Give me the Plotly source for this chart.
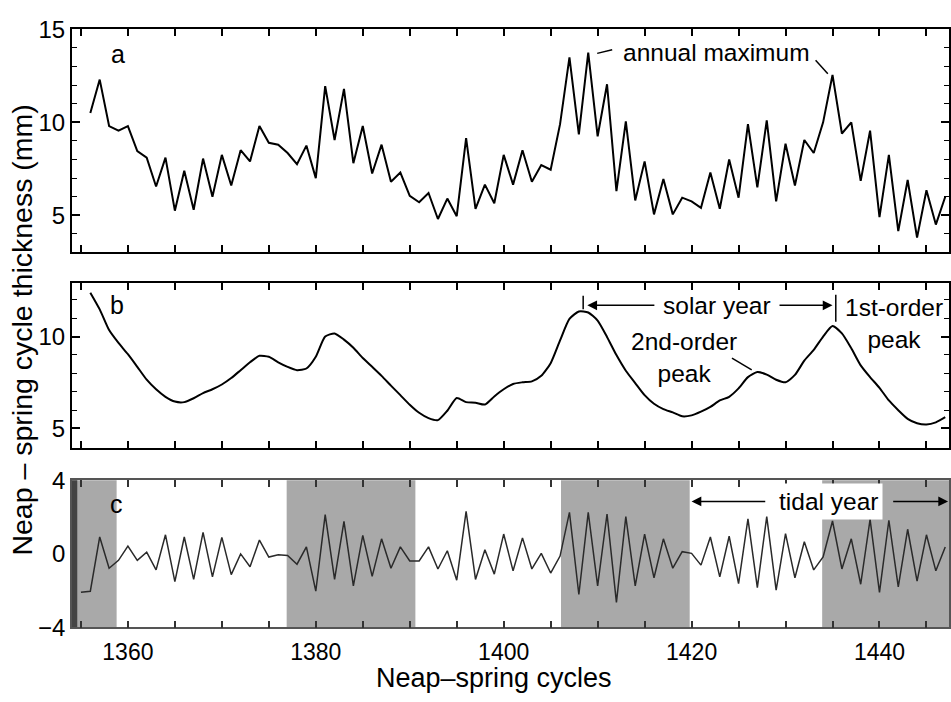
import plotly.graph_objects as go

# ---------------- data ----------------
cycles_a = list(range(1356, 1448))
thick_a = [10.5, 12.3, 9.8, 9.55, 9.8, 8.45, 8.1, 6.55, 8.1, 5.25,
           7.4, 5.3, 8.05, 6.0, 8.25, 6.6, 8.5, 7.9, 9.8, 8.9,
           8.8, 8.35, 7.75, 8.75, 7.0, 11.95, 9.05, 11.8, 7.8, 9.8,
           7.25, 8.8, 6.8, 7.3, 6.05, 5.7, 6.2, 4.8, 5.9, 4.95,
           9.15, 5.35, 6.65, 5.65, 8.25, 6.65, 8.5, 6.8, 7.7, 7.45,
           9.9, 13.5, 9.35, 13.75, 9.25, 12.05, 6.3, 10.05, 5.8, 7.9,
           5.05, 6.95, 5.05, 5.95, 5.75, 5.4, 7.3, 5.35, 8.0, 5.95,
           9.9, 6.5, 10.1, 5.75, 8.85, 6.6, 9.05, 8.35, 10.0, 12.55,
           9.4, 10.0, 6.85, 9.55, 4.9, 8.25, 4.15, 6.9, 3.8, 6.35,
           4.5, 6.0]

cycles_b = list(range(1356, 1448))
smooth_b = [12.39, 11.48, 10.35, 9.65, 9.04, 8.35, 7.65, 7.13, 6.72, 6.46,
            6.43, 6.64, 6.92, 7.13, 7.39, 7.74, 8.17, 8.6, 8.95, 8.9,
            8.6, 8.35, 8.17, 8.26, 8.9, 10.0, 10.17, 9.83, 9.39, 8.83,
            8.35, 7.86, 7.33, 6.81, 6.29, 5.85, 5.56, 5.45, 5.96, 6.65,
            6.43, 6.40, 6.30, 6.74, 7.13, 7.42, 7.51, 7.56, 7.86, 8.55,
            9.79, 10.96, 11.36, 11.31, 10.87, 9.98, 8.99, 8.14, 7.47, 6.81,
            6.34, 6.05, 5.87, 5.66, 5.71, 5.91, 6.17, 6.52, 6.72, 7.18,
            7.79, 8.07, 7.93, 7.65, 7.51, 7.91, 8.69, 9.27, 10.0, 10.57,
            10.17, 9.36, 8.43, 7.79, 7.21, 6.52, 5.99, 5.52, 5.28, 5.21,
            5.33, 5.61]

cycles_c = list(range(1355, 1448))
resid_c = [-2.09, -2.03, 0.92, -0.78, -0.35, 0.43, -0.35, 0.09, -0.87, 1.04,
           -1.51, 0.92, -1.39, 1.17, -1.25, 0.90, -1.13, 0.0, -0.70, 0.75,
           -0.17, -0.05, -0.09, -0.56, 0.38, -2.03, 2.14, -1.39, 1.77, -1.74,
           1.01, -1.22, 0.82, -0.78, 0.38, -0.38, -0.38, 0.38, -0.82, 0.17,
           -1.43, 2.31, -1.39, 0.23, -1.10, 1.08, -0.92, 0.87, -0.82, 0.03,
           -1.04, -0.12, 2.26, -2.21, 2.26, -1.74, 2.17, -2.64, 2.03, -1.74,
           1.08, -1.30, 0.82, -0.78, 0.12, 0.03, -0.61, 0.92, -1.25, 0.96,
           -1.62, 1.91, -1.83, 2.03, -1.97, 1.10, -1.30, 0.66, -0.87, -0.17,
           1.79, -0.82, 0.82, -1.65, 1.88, -2.09, 1.83, -1.79, 1.34, -1.48,
           1.04, -0.92, 0.38]

shade_start = [1354.0, 1376.9, 1406.1, 1433.9]
shade_end = [1358.8, 1390.6, 1419.8, 1447.5]

x_ticks = list(range(1355, 1450, 5))

XR = [1354.05, 1447.4]
FONT = "Liberation Sans, Arial, Helvetica, sans-serif"

fig = go.Figure()
fig.add_trace(go.Scatter(x=cycles_a, y=thick_a, mode="lines",
                         line=dict(color="black", width=2), xaxis="x", yaxis="y"))
fig.add_trace(go.Scatter(x=cycles_b, y=smooth_b, mode="lines",
                         line=dict(color="black", width=2, shape="spline", smoothing=0.6),
                         xaxis="x2", yaxis="y2"))
fig.add_trace(go.Scatter(x=cycles_c, y=resid_c, mode="lines",
                         line=dict(color="#2a2a2a", width=1.5), xaxis="x3", yaxis="y3"))

shapes = []
for s, e in zip(shade_start, shade_end):
    shapes.append(dict(type="rect", xref="x3", yref="y3 domain", x0=s, x1=e, y0=0, y1=1,
                       fillcolor="#a9a9a9", line=dict(width=0), layer="below"))
# dark scan band at left of panel c
shapes.append(dict(type="rect", xref="x3 domain", yref="y3 domain", x0=0, x1=0.006, y0=0, y1=1,
                   fillcolor="#444444", line=dict(width=0), layer="below"))
# leader lines panel a
shapes.append(dict(type="line", xref="x", yref="y", x0=1409.95, y0=13.71, x1=1411.55, y1=13.91,
                   line=dict(color="black", width=1.5)))
shapes.append(dict(type="line", xref="x", yref="y", x0=1433.2, y0=13.34, x1=1434.5, y1=12.62,
                   line=dict(color="black", width=1.5)))
# solar year bars
shapes.append(dict(type="line", xref="x2", yref="y2", x0=1408.46, y0=12.22, x1=1408.46, y1=11.49,
                   line=dict(color="black", width=1.5)))
shapes.append(dict(type="line", xref="x2", yref="y2", x0=1435.35, y0=12.27, x1=1435.35, y1=10.8,
                   line=dict(color="black", width=1.5)))
# 2nd-order connector
shapes.append(dict(type="line", xref="x2", yref="y2", x0=1424.3, y0=8.82, x1=1426.4, y1=8.19,
                   line=dict(color="black", width=1.5)))

ann = []
def txt(x, y, t, xref, yref, size=24.5, **kw):
    d = dict(x=x, y=y, text=t, xref=xref, yref=yref, showarrow=False,
             xanchor="center", yanchor="middle",
             font=dict(family=FONT, size=size, color="black"))
    d.update(kw)
    ann.append(d)

def arrow(x, y, ax, ay, xref, yref):
    ann.append(dict(x=x, y=y, ax=ax, ay=ay, xref=xref, yref=yref, axref=xref, ayref=yref,
                    text="", showarrow=True, arrowhead=2, arrowsize=1.3, arrowwidth=1.5,
                    arrowcolor="black"))

txt(1358.9, 13.65, "a", "x", "y", size=25)
txt(1422.7, 13.76, "annual maximum", "x", "y")
txt(1358.8, 11.7, "b", "x2", "y2", size=25)
txt(1422.7, 11.7, "solar year", "x2", "y2")
arrow(1408.9, 11.7, 1416.2, 11.7, "x2", "y2")
arrow(1435.0, 11.7, 1429.2, 11.7, "x2", "y2")
txt(1441.5, 10.7, "1st-order<br>peak", "x2", "y2", align="center")
txt(1419.2, 8.87, "2nd-order<br>peak", "x2", "y2", align="center")
txt(1358.8, 2.69, "c", "x3", "y3", size=25)
arrow(1420.0, 2.85, 1428.0, 2.85, "x3", "y3")
arrow(1447.3, 2.85, 1441.3, 2.85, "x3", "y3")
txt(1434.6, 2.85, "tidal year", "x3", "y3", bgcolor="white", borderpad=4)
txt(0.481, 0.0165, "Neap–spring cycles", "paper", "paper", size=27, borderpad=0)
txt(-0.057, 0.531, "Neap – spring cycle thickness (mm)", "paper", "paper", size=28.5, textangle=-90)

common_x = dict(range=XR, domain=[0, 1], showline=True, mirror="ticks", linecolor="black",
                linewidth=2, ticks="inside", ticklen=7, tickwidth=1.5, tickcolor="black",
                tickvals=x_ticks, showgrid=False, zeroline=False, showticklabels=False)
common_y = dict(showline=True, mirror="ticks", linecolor="black", linewidth=2,
                ticks="inside", ticklen=8, tickwidth=1.5, tickcolor="black",
                showgrid=False, zeroline=False,
                tickfont=dict(family=FONT, size=24, color="black"),
                minor=dict(dtick=1, ticks="inside", ticklen=5, tickwidth=1.2, tickcolor="black"))

fig.update_layout(
    width=951, height=702,
    margin=dict(l=72, r=0, t=0, b=0),
    paper_bgcolor="white", plot_bgcolor="white",
    showlegend=False,
    shapes=shapes, annotations=ann,
    xaxis=dict(**common_x, anchor="y"),
    yaxis=dict(**common_y, domain=[0.6467, 0.9772], range=[3, 15], tickvals=[5, 10, 15], anchor="x"),
    xaxis2=dict(**common_x, anchor="y2"),
    yaxis2=dict(**common_y, domain=[0.3575, 0.6011], range=[3.95, 12.9], tickvals=[5, 10], anchor="x2"),
    xaxis3=dict(range=XR, domain=[0, 1], showline=True, mirror="ticks", linecolor="#555555",
                linewidth=1.5, ticks="inside", ticklen=7, tickwidth=1.5, tickcolor="#333333",
                tickvals=x_ticks,
                ticktext=[(str(v) if v % 20 == 0 else "") for v in x_ticks],
                tickfont=dict(family=FONT, size=23, color="black"),
                ticklabelstandoff=3,
                showgrid=False, zeroline=False, anchor="y3"),
    yaxis3=dict(domain=[0.0912, 0.3091], range=[-4, 4], tickvals=[-4, 0, 4], anchor="x3",
                showline=True, mirror=True, linecolor="#555555", linewidth=1.5,
                ticks="", showgrid=False, zeroline=False,
                tickfont=dict(family=FONT, size=24, color="black")),
)

post = ("document.body.style.margin='0';document.body.style.overflow='hidden';"
        "var gd=document.getElementById('{plot_id}');"
        "gd.style.position='fixed';gd.style.left='0px';gd.style.top='0px';")

fig.write_html("out.html", config={"responsive": False, "displayModeBar": False},
               post_script=post)
